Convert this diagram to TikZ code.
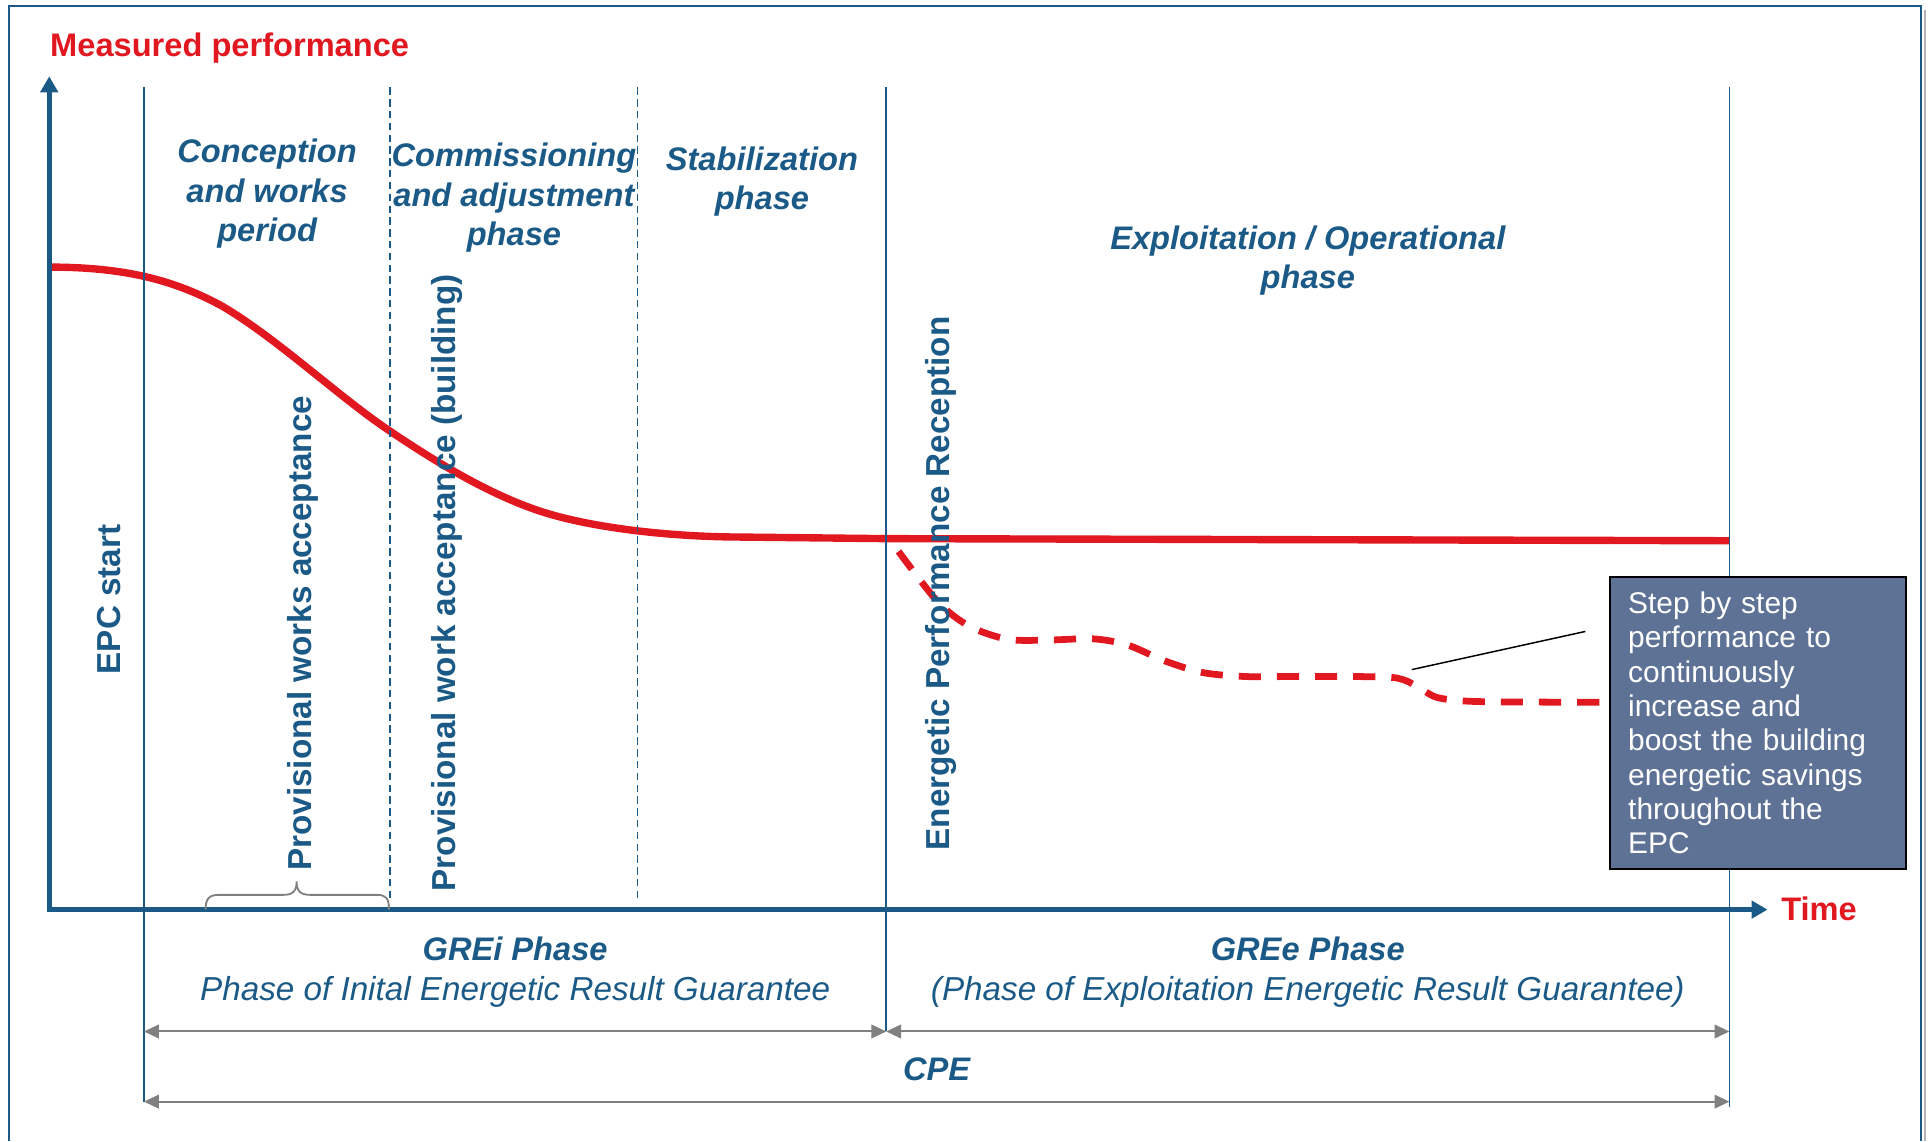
\documentclass[tikz,border=0pt]{standalone}
\usepackage{fontspec}
\setmainfont{Liberation Sans}
\usetikzlibrary{arrows.meta}
\definecolor{epcblue}{RGB}{27,90,135}
\definecolor{epcred}{RGB}{225,24,32}
\definecolor{boxfill}{RGB}{94,114,150}
\definecolor{spangray}{RGB}{128,128,128}
\newcommand{\fsz}[2]{\fontsize{#1bp}{#2bp}\selectfont}
\newcommand{\topst}{\rule{0pt}{22bp}}
\begin{document}
\begin{tikzpicture}[x=1bp,y=-1bp,
  phaselbl/.style={font=\fsz{26.5}{31.8}\bfseries\itshape, text=epcblue, align=center, inner sep=0pt, anchor=north},
  vlabel/.style={font=\fsz{27}{32}\bfseries, text=epcblue, rotate=90, anchor=base, inner sep=0pt},
  guarbold/.style={font=\fsz{26.5}{32}\bfseries\itshape, text=epcblue, inner sep=0pt, anchor=base},
  guarital/.style={font=\fsz{27}{32}\itshape, text=epcblue, inner sep=0pt, anchor=base},
  redlbl/.style={font=\fsz{26.5}{32}\bfseries, text=epcred, inner sep=0pt, anchor=base west},
  vline/.style={epcblue, line width=1.4bp},
  dline/.style={epcblue, line width=1.3bp, dash pattern=on 6bp off 3.6bp},
  axisline/.style={epcblue, line width=4bp, -{Triangle[length=13bp,width=14bp]}},
  spanarrow/.style={spangray, line width=1.6bp, {Triangle[length=12bp,width=11bp]}-{Triangle[length=12bp,width=11bp]}},
  perf/.style={epcred, line width=6bp, line join=round},
  perfdash/.style={epcred, line width=5.5bp, dash pattern=on 18bp off 13bp},
  callout/.style={draw=black, line width=1.6bp, fill=boxfill, text=white, inner xsep=15bp, inner ysep=4bp, text width=211bp, align=left, font=\fsz{24.3}{27.86}, anchor=north west}
]
\useasboundingbox (0,0) rectangle (1568,927);

% outer frame
\draw[gray!60, line width=2bp] (1564,8) -- (1564,927);
\draw[epcblue, line width=1.5bp] (7,927) -- (7,5) -- (1561,5) -- (1561,927);

% measured performance curves
\draw[perf] (40,217) .. controls (100,217) and (141,227) .. (181,249)
  .. controls (225,275) and (275,322) .. (315,349)
  .. controls (355,376) and (395,400) .. (435,414)
  .. controls (475,428) and (540,436) .. (600,436.3)
  -- (720,437.6) -- (1405,439.3);
\draw[perfdash] plot[smooth, tension=0.5] coordinates {(730,448) (762,489) (788,509) (819,519.4) (852,520) (888,519) (916,524) (946.5,537) (977.6,546.5) (1014,549.7) (1060,549.5) (1124,550) (1141,552.5) (1155,560) (1169,567) (1202,570) (1301,570.5)};

% phase separators
\draw[vline] (117,71) -- (117,895);
\draw[vline] (720,71) -- (720,838);
\draw[vline] (1405,71) -- (1405,899);
\draw[dline] (317,71) -- (317,733);
\draw[dline] (518,71) -- (518,733);

% axes
\coordinate (origin) at (40,739);
\coordinate (ytop) at (40,62);
\coordinate (xend) at (1436,739);
\draw[axisline] ([yshift=2bp]origin) -- (ytop);
\draw[axisline] ([xshift=-2bp]origin) -- (xend);

% brace
\draw[spangray, line width=1.5bp] (167,739) .. controls (167,730) and (170,727) .. (178,727) -- (230,727) .. controls (238,727) and (241,724) .. (241,716) .. controls (241,724) and (244,727) .. (252,727) -- (306,727) .. controls (314,727) and (316,730) .. (316,739);

% span arrows
\coordinate (s0) at (117,838);
\coordinate (s1) at (720,838);
\coordinate (s2) at (1405,838);
\coordinate (c0) at (117,895);
\coordinate (c1) at (1405,895);
\draw[spanarrow] (s0) -- (s1);
\draw[spanarrow] (s1) -- (s2);
\draw[spanarrow] (c0) -- (c1);

% axis titles
\node[redlbl] (ytitle) at (40.6,46) {Measured performance};
\node[redlbl] (xtitle) at (1447,747.5) {Time};

% phase names
\node[phaselbl] (conc) at (217,110.2) {\topst Conception\\and works\\period};
\node[phaselbl] (comm) at (417.5,113.4) {\topst Commissioning\\and adjustment\\phase};
\node[phaselbl] (stab) at (619,116) {\topst Stabilization\\phase};
\node[phaselbl] (expl) at (1062.5,180.6) {\topst Exploitation / Operational\\phase};

% milestones
\node[vlabel] (epcstart) at (98,487) {EPC start};
\node[vlabel] (pwa) at (253,514.5) {Provisional works acceptance};
\node[vlabel] (pwab) at (370,473.5) {Provisional work acceptance (building)};
\node[vlabel] (epr) at (771,474) {Energetic Performance Reception};

% guarantees
\node[guarbold] (grei) at (418.5,780) {GREi Phase};
\node[guarital] (greisub) at (418.5,812.5) {Phase of Inital Energetic Result Guarantee};
\node[guarbold] (gree) at (1062.5,780) {GREe Phase};
\node[guarital] (greesub) at (1062.5,812.5) {(Phase of Exploitation Energetic Result Guarantee)};
\node[guarbold] (cpe) at (761,877.5) {CPE};

% callout
\node[callout] (note) at (1307,468) {\rule{0pt}{25.7bp}Step by step\\performance to\\continuously\\increase and\\boost the building\\energetic savings\\throughout the\\EPC\rule[-8.3bp]{0pt}{8.3bp}};
\coordinate (lead0) at (1147,544);
\coordinate (lead1) at (1288,513);
\draw[black, line width=1.2bp] (lead0) -- (lead1);
\end{tikzpicture}
\end{document}
